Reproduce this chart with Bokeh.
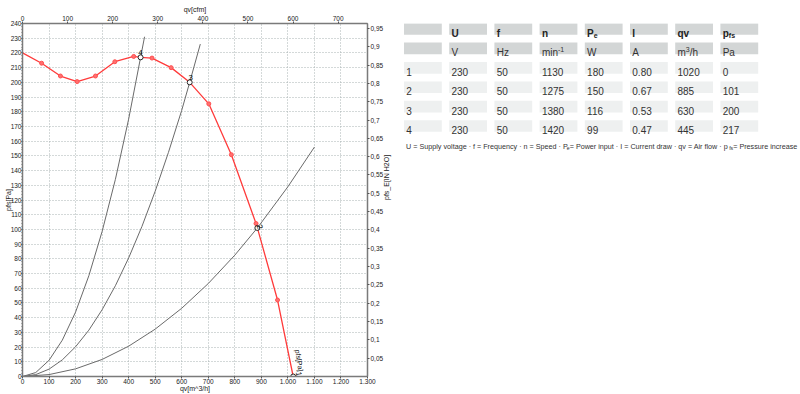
import math
from bokeh.plotting import figure
from bokeh.models import Range1d, LinearAxis, FixedTicker, ColumnDataSource, Label
from bokeh.layouts import row
from bokeh.embed import file_html
from bokeh.resources import INLINE
from bokeh.core.properties import value

# ---------------- data ----------------
# table
col_head = ["", "U", "f", "n", "P", "I", "qv", "p"]
col_head_sub = ["", "", "", "", "e", "", "", "fs"]
col_unit = ["", "V", "Hz", "min", "W", "A", "m", "Pa"]
col_unit_sup = ["", "", "", "-1", "", "", "3", ""]
col_unit_tail = ["", "", "", "", "", "", "/h", ""]
op_no = ["1", "2", "3", "4"]
U_V = [230, 230, 230, 230]
f_Hz = [50, 50, 50, 50]
n_rpm = [1130, 1275, 1380, 1420]
Pe_W = [180, 150, 116, 99]
I_A = [0.80, 0.67, 0.53, 0.47]
qv_m3h = [1020, 885, 630, 445]
pfs_Pa = [0, 101, 200, 217]
footer_parts = ["U = Supply voltage · f = Frequency · n = Speed · P", "e",
                " = Power input · I = Current draw · qv = Air flow · p", "fs",
                " = Pressure increase"]
footer_kinds = ["n", "sub", "n", "sub", "n"]

# fan curve (m3/h, Pa)
curve_start_q = [0]
curve_start_p = [220]
marker_q = [72, 143, 206, 275, 348, 419, 488, 560, 702, 787, 880, 961]
marker_p = [213, 204.3, 200.5, 204.3, 214, 217.6, 216.5, 210, 185.4, 150.8, 104, 52]

# system curves (m3/h, Pa)
sys4_q = [0, 50, 100, 150, 200, 250, 300, 350, 400, 445, 460]
sys4_p = [0, 2.7, 11, 24.7, 43.8, 68.5, 98.6, 134, 175, 217, 231]
sys3_q = [0, 50, 100, 150, 200, 250, 300, 350, 400, 450, 500, 550, 600, 630, 670]
sys3_p = [0, 1.3, 5, 11.3, 20.2, 31.5, 45.4, 61.7, 80.6, 102, 126, 152.4, 181, 200, 226]
sys2_q = [0, 100, 200, 300, 400, 500, 600, 700, 800, 885, 1000, 1100]
sys2_p = [0, 1.3, 5.2, 11.6, 20.6, 32.2, 46.4, 63.2, 82.5, 101, 129, 156]

# axes ticks
x_ticks = list(range(0, 1301, 100))
x_tick_labels = ["0", "100", "200", "300", "400", "500", "600", "700", "800", "900",
                 "1.000", "1.100", "1.200", "1.300"]
y_ticks = list(range(0, 241, 10))
y_tick_labels = [str(v) for v in y_ticks]
cfm_ticks = [0, 100, 200, 300, 400, 500, 600, 700]
cfm_tick_labels = ["0", "100", "200", "300", "400", "500", "600", "700"]
inh2o_ticks = [0.05, 0.1, 0.15, 0.2, 0.25, 0.3, 0.35, 0.4, 0.45, 0.5,
               0.55, 0.6, 0.65, 0.7, 0.75, 0.8, 0.85, 0.9, 0.95]
inh2o_tick_labels = ["0,05", "0,1", "0,15", "0,2", "0,25", "0,3", "0,35", "0,4", "0,45", "0,5",
                     "0,55", "0,6", "0,65", "0,7", "0,75", "0,8", "0,85", "0,9", "0,95"]
chart_note = "Su(s.) 1(gh)D Rho=1,2kg/m³"

M3H_PER_CFM = 1.69901
PA_PER_INH2O = 249.089

# ---------------- chart ----------------
FONT = "Liberation Sans"
BT, BB, BL, BR = 23, 17, 22, 33
p = figure(width=400, height=394, x_range=Range1d(0, 1300), y_range=Range1d(0, 240),
           output_backend="svg", toolbar_location=None,
           x_axis_location=None, y_axis_location=None,
           min_border_left=BL, min_border_right=BR, min_border_top=BT, min_border_bottom=BB)
p.outline_line_color = "#7a7a7a"
p.background_fill_color = "white"
p.border_fill_color = "white"

p.extra_x_ranges = {"cfm": Range1d(0, 1300 / M3H_PER_CFM)}
p.extra_y_ranges = {"inh2o": Range1d(0, 240 / PA_PER_INH2O)}

bottom_ax = LinearAxis(axis_label="qv[m^3/h]", ticker=FixedTicker(ticks=x_ticks),
                       major_label_overrides=dict(zip(x_ticks, x_tick_labels)))
left_ax = LinearAxis(axis_label="pfs[Pa]",
                     ticker=FixedTicker(ticks=y_ticks, minor_ticks=list(range(0, 241, 2))),
                     major_label_overrides=dict(zip(y_ticks, y_tick_labels)))
top_ax = LinearAxis(x_range_name="cfm", axis_label="qv[cfm]", ticker=FixedTicker(ticks=cfm_ticks),
                    major_label_overrides=dict(zip(cfm_ticks, cfm_tick_labels)))
right_ax = LinearAxis(y_range_name="inh2o", axis_label="pfs_E[IN H2O]",
                      ticker=FixedTicker(ticks=inh2o_ticks),
                      major_label_overrides=dict(zip(inh2o_ticks, inh2o_tick_labels)))
p.add_layout(bottom_ax, "below")
p.add_layout(left_ax, "left")
p.add_layout(top_ax, "above")
p.add_layout(right_ax, "right")

for ax in [bottom_ax, left_ax, top_ax, right_ax]:
    ax.major_label_text_font = FONT
    ax.major_label_text_font_size = "6.5px"
    ax.major_label_text_color = "#222222"
    ax.axis_label_text_font = FONT
    ax.axis_label_text_font_size = "7px"
    ax.axis_label_text_font_style = "normal"
    ax.axis_label_text_color = "#222222"
    ax.axis_line_color = "#7a7a7a"
    ax.axis_line_width = 1.5
    ax.major_tick_line_color = "#555555"
    ax.minor_tick_line_color = "#777777"
    ax.major_tick_out = 2
    ax.major_tick_in = 0
    ax.minor_tick_out = 1
    ax.minor_tick_in = 0
    ax.major_label_standoff = 1
    ax.axis_label_standoff = 0
bottom_ax.major_label_standoff = 0
bottom_ax.axis_label_standoff = -2
left_ax.major_tick_out = 1
left_ax.major_label_standoff = 0
left_ax.axis_label_standoff = -4
try:
    right_ax.axis_label_orientation = math.pi / 2
except Exception:
    pass

p.add_layout(Label(x=345 / 2, y=354 + 20.5, x_units="screen", y_units="screen", text=chart_note,
                   text_font=FONT, text_font_size="4px", text_color="#555555",
                   text_align="center", text_baseline="middle"))

p.xgrid.ticker = FixedTicker(ticks=x_ticks)
p.ygrid.ticker = FixedTicker(ticks=y_ticks)
for g in [p.xgrid[0], p.ygrid[0]]:
    g.grid_line_color = "#a8b2b2"
    g.grid_line_dash = "1 2"
    g.grid_line_width = 1

# system curves
for qs, ps in [(sys4_q, sys4_p), (sys3_q, sys3_p), (sys2_q, sys2_p)]:
    p.line(qs, ps, line_color="#6a6a6a", line_width=1)

# fan curve through all read points
pts = sorted(list(zip(curve_start_q, curve_start_p)) + list(zip(marker_q, marker_p)) +
             list(zip(qv_m3h, pfs_Pa)))
p.line([a for a, b in pts], [b for a, b in pts], line_color="#ff3b3b", line_width=1.3)
p.scatter(marker_q, marker_p, size=4, fill_color="#ff7070", line_color="#ff5050")

# operating points
p.scatter(qv_m3h, pfs_Pa, size=5, fill_color="white", line_color="#111111", line_width=0.9)
lab_angle = [-1.4, -1.2, 0, 0]
lab_dy = [-2, 0, -2, -2]
lab_dx = [3, 0, 1, 0]
src_lab = ColumnDataSource(dict(x=qv_m3h, y=pfs_Pa, t=op_no, a=lab_angle, dx=lab_dx, dy=lab_dy))
p.text(x="x", y="y", text="t", angle="a", x_offset="dx", y_offset="dy", source=src_lab,
       text_font=value(FONT), text_font_size="8px", text_color="#111111",
       text_align="center", text_baseline="bottom")
p.text(x=[qv_m3h[0]], y=[pfs_Pa[0]], text=["pfs[Pa]"], angle=-1.42, x_offset=6, y_offset=-16,
       text_font=value(FONT), text_font_size="7px", text_color="#111111",
       text_align="center", text_baseline="middle")

# ---------------- table ----------------
AW = {' ': 278, '=': 584, '·': 278, '-': 333, '.': 278, '/': 278, ',': 278}
for d in "0123456789":
    AW[d] = 556
AW.update({'A': 667, 'C': 722, 'F': 611, 'H': 722, 'I': 278, 'P': 667, 'S': 667, 'U': 722,
           'V': 667, 'W': 944})
AW.update(dict(a=556, c=500, d=556, e=556, f=278, g=556, h=556, i=222, l=222, m=833, n=556,
               o=556, p=556, q=556, r=333, s=500, t=278, u=556, v=500, w=722, y=500, z=500))
AWB = dict(AW)
AWB.update({'f': 333, 'n': 611, 'q': 611, 'v': 556, 'p': 611, 's': 556})


def tw(s, size, bold=False):
    tab = AWB if bold else AW
    return sum(tab.get(c, 556) for c in s) / 1000.0 * size


# table frame uses the same vertical borders as the chart, data units = page pixels
t = figure(width=400, height=394, x_range=Range1d(400, 800), y_range=Range1d(394 - BB, BT),
           output_backend="svg", toolbar_location=None,
           min_border_left=0, min_border_right=0, min_border_top=BT, min_border_bottom=BB,
           x_axis_location=None, y_axis_location=None)
t.xgrid.visible = False
t.ygrid.visible = False
t.outline_line_color = None
t.background_fill_color = "white"
t.border_fill_color = "white"

X0, PITCH_X, CW = 403.5, 45.2, 37.8
Y0, PITCH_Y, CH = 22.7, 19.45, 11.7
PAD = 2.3
FS, FS_SMALL = 10, 7

ncol = len(col_head)
data_rows = [op_no, U_V, f_Hz, n_rpm, Pe_W, ["%.2f" % v for v in I_A], qv_m3h, pfs_Pa]
nrows = 2 + len(op_no)

rx, ry, rc = [], [], []
for r in range(nrows):
    for c in range(ncol):
        rx.append(X0 + c * PITCH_X + CW / 2)
        ry.append(Y0 + r * PITCH_Y + CH / 2)
        rc.append("#d3d6d6" if r < 2 else "#eef0f0")
t.rect(x=rx, y=ry, width=CW, height=CH, fill_color=rc, line_color=None)

norm = dict(x=[], y=[], t=[])
bold = dict(x=[], y=[], t=[])
small_b = dict(x=[], y=[], t=[])
small_n = dict(x=[], y=[], t=[])


def base_y(r):
    return Y0 + r * PITCH_Y + CH / 2 + 0.716 * FS / 2 + 0.4


for c in range(ncol):
    x = X0 + c * PITCH_X + PAD
    bold["x"].append(x); bold["y"].append(base_y(0)); bold["t"].append(col_head[c])
    if col_head_sub[c]:
        small_b["x"].append(x + tw(col_head[c], FS, True)); small_b["y"].append(base_y(0) + 2.3)
        small_b["t"].append(col_head_sub[c])
    norm["x"].append(x); norm["y"].append(base_y(1)); norm["t"].append(col_unit[c])
    xx = x + tw(col_unit[c], FS)
    if col_unit_sup[c]:
        small_n["x"].append(xx); small_n["y"].append(base_y(1) - 3); small_n["t"].append(col_unit_sup[c])
        xx += tw(col_unit_sup[c], FS_SMALL)
    if col_unit_tail[c]:
        norm["x"].append(xx); norm["y"].append(base_y(1)); norm["t"].append(col_unit_tail[c])
    for i in range(len(op_no)):
        norm["x"].append(x); norm["y"].append(base_y(2 + i)); norm["t"].append(str(data_rows[c][i]))

TXT = "#333333"
t.text(x="x", y="y", text="t", source=ColumnDataSource(norm), text_font=value(FONT),
       text_font_size="%dpx" % FS, text_color=TXT, text_baseline="alphabetic", text_align="left")
t.text(x="x", y="y", text="t", source=ColumnDataSource(bold), text_font=value(FONT),
       text_font_style="bold", text_font_size="%dpx" % FS, text_color="#222222",
       text_baseline="alphabetic", text_align="left")
t.text(x="x", y="y", text="t", source=ColumnDataSource(small_b), text_font=value(FONT),
       text_font_style="bold", text_font_size="%dpx" % FS_SMALL, text_color="#222222",
       text_baseline="alphabetic", text_align="left")
t.text(x="x", y="y", text="t", source=ColumnDataSource(small_n), text_font=value(FONT),
       text_font_size="%dpx" % FS_SMALL, text_color=TXT,
       text_baseline="alphabetic", text_align="left")

# footer
FF, FF_SMALL = 7.2, 5.2
fx, fy, ft, fsx, fsy, fst = [], [], [], [], [], []
xx = 405.6
FB = 145.9
for part, kind in zip(footer_parts, footer_kinds):
    if kind == "sub":
        fsx.append(xx); fsy.append(FB + 1.8); fst.append(part)
        xx += tw(part, FF_SMALL)
    else:
        fx.append(xx); fy.append(FB); ft.append(part)
        xx += tw(part, FF)
t.text(x=fx, y=fy, text=ft, text_font=value(FONT), text_font_size="%.1fpx" % FF,
       text_color=TXT, text_baseline="alphabetic", text_align="left")
t.text(x=fsx, y=fsy, text=fst, text_font=value(FONT), text_font_size="%.1fpx" % FF_SMALL,
       text_color=TXT, text_baseline="alphabetic", text_align="left")

layout = row(p, t)
open("out.html", "w").write(file_html(layout, INLINE))
